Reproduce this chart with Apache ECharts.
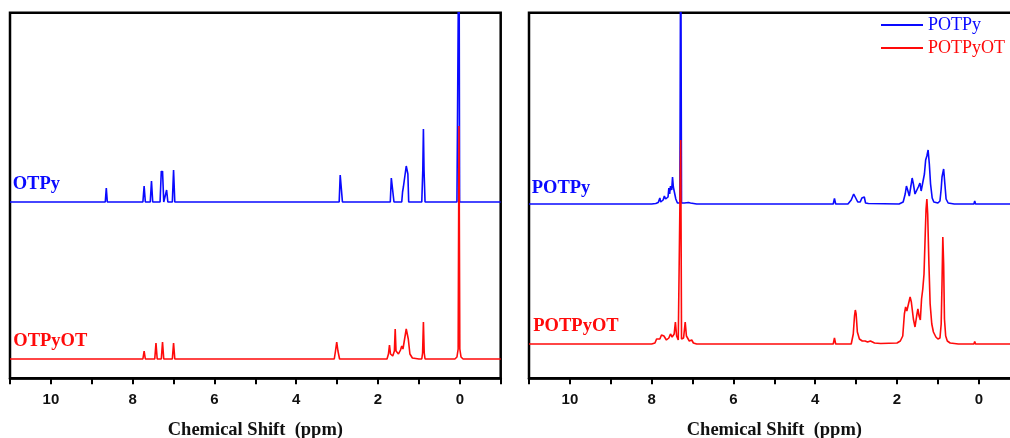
<!DOCTYPE html>
<html>
<head>
<meta charset="utf-8">
<script src="https://cdn.jsdelivr.net/npm/echarts@6/dist/echarts.min.js"></script>
<style>html,body{margin:0;padding:0;background:#fff}#c{width:1010px;height:438px}</style>
</head>
<body>
<div id="c"></div>
<script>
// x tick values (ppm), labels shown on even values
const xTicks = [-1, 0, 1, 2, 3, 4, 5, 6, 7, 8, 9, 10, 11];
const seriesNames = ['OTPy', 'OTPyOT', 'POTPy', 'POTPyOT'];

// [chemical shift (ppm), intensity above own baseline]
const otpy = [
  [11,0],[8.67,0],[8.645,14],[8.62,0],
  [7.75,0],[7.72,16],[7.69,0],
  [7.57,0],[7.54,21],[7.51,0],
  [7.33,0],[7.30,31],[7.285,28],[7.27,31],[7.24,0],
  [7.20,0],[7.17,12],[7.14,0],
  [7.03,0],[7.00,32],[6.97,0],
  [2.95,0],[2.925,27],[2.91,25],[2.895,27],[2.87,0],
  [1.70,0],[1.675,24],[1.66,23],[1.645,24],[1.61,0],
  [1.42,0],[1.40,10],[1.38,15],[1.36,13],[1.33,30],[1.31,36],[1.29,36],[1.27,28],[1.25,0],
  [0.93,0],[0.905,32],[0.89,73],[0.875,32],[0.85,0],
  [0.07,0],[0.05,2],[0.035,0],[0.02,300],[0.005,0],[-0.02,2],[-0.035,0],[-1,0]
];
const otpyot = [
  [11,0],[7.75,0],[7.72,8],[7.69,0],
  [7.46,0],[7.43,16],[7.40,0],
  [7.30,0],[7.27,17],[7.24,0],
  [7.03,0],[7.00,16],[6.97,0],
  [3.07,0],[3.04,8],[3.01,17],[2.98,8],[2.94,0],
  [1.78,0],[1.745,5],[1.72,14],[1.695,5],[1.64,3],[1.60,8],[1.58,30],[1.56,8],[1.50,5],
  [1.45,9],[1.42,13],[1.39,10],[1.35,20],[1.31,30],[1.29,31],[1.26,20],[1.22,5],[1.16,1],[1.0,0],
  [0.93,0],[0.91,6],[0.89,37],[0.87,6],[0.85,0],
  [0.12,0],[0.07,2],[0.04,10],[0.02,233],[0.0,10],[-0.03,2],[-0.08,0],[-1,0]
];
const potpy = [
  [11,0],[8.0,0],[7.9,0.5],[7.84,1.5],[7.80,6],[7.78,2],[7.72,4],[7.69,8],[7.66,5],[7.60,7],
  [7.58,16],[7.56,10],[7.54,18],[7.51,14],[7.49,27],[7.47,17],[7.45,15],[7.41,5],[7.37,1],
  [7.31,1],[7.29,300],[7.27,1],[7.2,1],[7.1,1.5],[7.05,1],[6.9,0],
  [3.56,0],[3.53,5.5],[3.50,0],
  [3.2,0],[3.12,4],[3.06,10],[3.02,8],[2.96,2],[2.90,2],[2.86,6],[2.84,8],[2.80,7],[2.77,1],[2.7,0.5],
  [1.95,0],[1.85,2],[1.80,10],[1.77,18],[1.74,14],[1.70,8],[1.66,18],[1.63,26],[1.60,20],[1.56,10],
  [1.52,9],[1.48,17],[1.44,21],[1.41,13],[1.37,15],[1.33,30],[1.30,44],[1.27,48],[1.24,54],[1.21,40],
  [1.18,20],[1.14,6],[1.10,2],[1.0,1],[0.95,3],[0.92,15],[0.90,27],[0.88,25],[0.86,35],[0.85,37],
  [0.83,20],[0.80,5],[0.75,1],[0.6,0],
  [0.12,0],[0.10,3],[0.08,0],[-1,0]
];
const potpyot = [
  [11,0],[8.0,0],[7.92,1],[7.88,5],[7.85,7],[7.80,5],[7.76,9],[7.73,11],[7.70,8],[7.64,4],[7.58,6],
  [7.54,10],[7.50,7],[7.45,10],[7.42,22],[7.39,8],[7.35,4],[7.31,4],[7.29,204],[7.27,5],[7.22,6],
  [7.18,22],[7.15,8],[7.08,3],[7.02,4],[6.98,1],[6.9,0],
  [3.56,0],[3.53,6],[3.50,0],
  [3.12,0],[3.07,10],[3.04,28],[3.02,34],[3.0,30],[2.97,12],[2.92,5],[2.85,3],[2.78,3],[2.72,2],
  [2.65,3],[2.55,1],[2.4,0.5],
  [2.0,1],[1.92,3],[1.86,8],[1.82,30],[1.79,37],[1.76,33],[1.72,40],[1.68,47],[1.65,42],[1.60,25],
  [1.56,17],[1.52,28],[1.49,35],[1.46,28],[1.43,24],[1.40,45],[1.37,55],[1.34,70],[1.31,110],
  [1.29,135],[1.27,145],[1.25,130],[1.22,80],[1.19,40],[1.15,20],[1.11,12],[1.05,7],[1.0,5],
  [0.95,6],[0.92,20],[0.90,60],[0.88,107],[0.86,80],[0.84,25],[0.81,8],[0.77,3],[0.7,1],[0.5,0],
  [0.12,0],[0.10,2.5],[0.08,0],[-1,0]
];
// vertical stacking offsets of each trace baseline
const offsets = [176.3, 19.3, 174.3, 34.3];

const BLUE = '#0a0aff', RED = '#ff0a0a';
const shift = (arr, off) => arr.map(p => [p[0], p[1] + off]);

const chart = echarts.init(document.getElementById('c'), null, {renderer: 'canvas'});

const gridBase = {top: 12.7, height: 365.6, width: 490.7, show: true, borderColor: '#000', borderWidth: 2.5,
  backgroundColor: 'transparent', containLabel: false, outerBoundsMode: 'none'};
const xAxisBase = (gi) => ({
  type: 'value', gridIndex: gi, inverse: true, min: xTicks[0], max: xTicks[xTicks.length - 1], interval: 1,
  axisLine: {show: true, lineStyle: {color: '#000', width: 2.5}},
  axisTick: {show: true, inside: false, length: 6, lineStyle: {color: '#000', width: 2}},
  axisLabel: {margin: 14, color: '#111', fontFamily: 'Liberation Sans', fontWeight: 'bold', fontSize: 15,
    formatter: v => (Math.round(v) % 2 === 0 ? String(Math.round(v)) : '')},
  splitLine: {show: false},
  name: 'Chemical Shift  (ppm)', nameLocation: 'middle', nameGap: 42,
  nameTextStyle: {fontFamily: 'Liberation Serif', fontWeight: 'bold', fontSize: 18.5, color: '#111'}
});
const yAxisBase = (gi) => ({type: 'value', gridIndex: gi, min: 0, max: 365.6, show: false});
const lineSeries = (name, data, off, color, gi) => ({
  name, type: 'line', xAxisIndex: gi, yAxisIndex: gi, data: shift(data, off), showSymbol: false,
  symbol: 'none', clip: true, animation: false, lineStyle: {color, width: 1.6}, itemStyle: {color}
});

const txt = (text, x, y, color) => ({
  type: 'text', x, y, silent: true,
  style: {text, fill: color, font: 'bold 18.5px "Liberation Serif"', verticalAlign: 'middle', align: 'left'}
});

chart.setOption({
  animation: false,
  grid: [Object.assign({left: 10}, gridBase), Object.assign({left: 529}, gridBase)],
  xAxis: [xAxisBase(0), xAxisBase(1)],
  yAxis: [yAxisBase(0), yAxisBase(1)],
  legend: {
    orient: 'vertical', left: 876, top: 11, padding: 5, itemGap: 5, itemWidth: 42, itemHeight: 2, icon: 'rect',
    textStyle: {fontFamily: 'Liberation Serif', fontSize: 18},
    data: [{name: seriesNames[2], textStyle: {color: BLUE}}, {name: seriesNames[3], textStyle: {color: RED}}]
  },
  series: [
    lineSeries(seriesNames[0], otpy, offsets[0], BLUE, 0),
    lineSeries(seriesNames[1], otpyot, offsets[1], RED, 0),
    lineSeries(seriesNames[2], potpy, offsets[2], BLUE, 1),
    lineSeries(seriesNames[3], potpyot, offsets[3], RED, 1)
  ],
  graphic: [
    txt('OTPy', 12.7, 184, BLUE),
    txt('OTPyOT', 13.3, 341, RED),
    txt('POTPy', 531.7, 188, BLUE),
    txt('POTPyOT', 533.3, 326, RED)
  ]
});
</script>
</body>
</html>
